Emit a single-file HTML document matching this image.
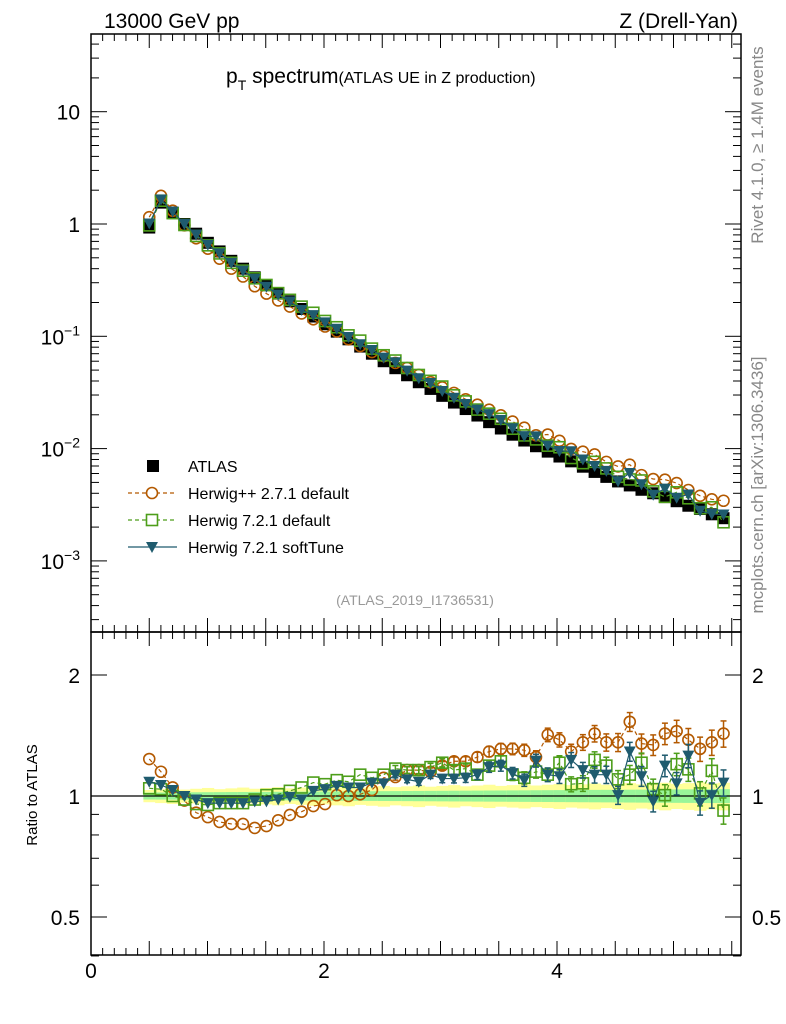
<!DOCTYPE html>
<html><head><meta charset="utf-8"><style>
body{margin:0;background:#fff;}
svg{display:block;font-family:"Liberation Sans",sans-serif;}
</style></head><body>
<svg id="c" width="786" height="1024" viewBox="0 0 786 1024">
<text x="104" y="28" font-size="21">13000 GeV pp</text>
<text x="738" y="28" font-size="21" text-anchor="end">Z (Drell-Yan)</text>
<text x="226" y="83" font-size="21">p<tspan font-size="14" dy="7">T</tspan><tspan dy="-7"> spectrum</tspan><tspan font-size="16">(ATLAS UE in Z production)</tspan></text>
<text transform="translate(763,145) rotate(-90)" font-size="17" fill="#888" text-anchor="middle">Rivet 4.1.0, ≥ 1.4M events</text>
<text transform="translate(763,485) rotate(-90)" font-size="17" fill="#888" text-anchor="middle">mcplots.cern.ch [arXiv:1306.3436]</text>
<text x="415" y="605" font-size="14" fill="#999" text-anchor="middle">(ATLAS_2019_I1736531)</text>
<text transform="translate(37,795) rotate(-90)" font-size="15" text-anchor="middle">Ratio to ATLAS</text>
<g id="g"></g>
</svg>
<script>
const atlasVals=[0.93,1.55,1.25,1.0,0.82,0.68,0.57,0.47,0.40,0.335,0.285,0.24,0.205,0.175,0.15,0.128,0.11,0.094,0.081,0.07,0.06,0.052,0.045,0.039,0.034,0.0295,0.0257,0.0225,0.0197,0.0172,0.0151,0.0133,0.0118,0.0105,0.0094,0.0085,0.0077,0.0069,0.0062,0.0056,0.0051,0.0047,0.0043,0.0040,0.0037,0.0034,0.0031,0.0029,0.0026,0.0024];
const ratioHpp=[1.236,1.149,1.05,0.974,0.909,0.886,0.862,0.852,0.852,0.833,0.842,0.87,0.897,0.914,0.944,0.955,1.005,1.0,1.01,1.035,1.11,1.115,1.16,1.16,1.149,1.19,1.22,1.22,1.25,1.29,1.31,1.31,1.30,1.25,1.42,1.38,1.29,1.36,1.43,1.36,1.36,1.53,1.35,1.34,1.43,1.45,1.38,1.31,1.36,1.43];
const ratioH721=[1.045,1.04,1.0,0.98,0.955,0.95,0.96,0.96,0.96,0.98,1.005,1.01,1.03,1.05,1.08,1.07,1.095,1.085,1.13,1.11,1.13,1.17,1.16,1.16,1.18,1.21,1.16,1.17,1.13,1.19,1.22,1.13,1.11,1.15,1.13,1.21,1.07,1.075,1.23,1.19,1.10,1.13,1.21,1.04,1.005,1.20,1.165,1.015,1.155,0.92];
const ratioSoft=[1.085,1.065,1.035,1.0,0.98,0.96,0.96,0.96,0.96,0.97,0.97,0.98,0.995,0.98,1.03,1.04,1.06,1.05,1.05,1.08,1.075,1.13,1.10,1.085,1.13,1.105,1.105,1.11,1.13,1.18,1.19,1.14,1.095,1.225,1.13,1.12,1.23,1.16,1.13,1.13,1.005,1.29,1.12,0.97,1.19,1.075,1.26,0.963,1.005,1.08];
const xTicks=[0,2,4];
const ratioTicks=[0.5,1,2];
const mainTicks=[1,0,-1,-2,-3];
const n=atlasVals.length;
const xVals=atlasVals.map((v,i)=>0.5+i*0.1006);
const X0=91,X1=741,Y0=34,Y1=632,R1=955;
const xs=v=>X0+v*116.5;
const ym=v=>224-112.3*Math.log10(v);
const yr=v=>796-121*Math.log2(v);
const g=document.getElementById('g');
const NS='http://www.w3.org/2000/svg';
function el(t,a,p){const e=document.createElementNS(NS,t);for(const k in a)e.setAttribute(k,a[k]);(p||g).appendChild(e);return e;}
const bw=0.1006/2;
const grp=el('g',{});


for(let i=0;i<n;i++){const f=i/(n-1);const y1=0.035+0.04*f+(i%3)*0.004,g1=0.02+0.02*f;
 el('rect',{x:xs(xVals[i]-bw),width:116.5*0.1006+0.5,y:yr(1+y1),height:yr(1-y1)-yr(1+y1),fill:'#ffff99'},grp);
 el('rect',{x:xs(xVals[i]-bw),width:116.5*0.1006+0.5,y:yr(1+g1),height:yr(1-g1)-yr(1+g1),fill:'#99f599'},grp);}
el('line',{x1:X0,x2:X1,y1:796,y2:796,stroke:'#000','stroke-width':1.3});
el('rect',{x:X0,y:Y0,width:X1-X0,height:Y1-Y0,fill:'none',stroke:'#000','stroke-width':1.5});
el('rect',{x:X0,y:Y1,width:X1-X0,height:R1-Y1,fill:'none',stroke:'#000','stroke-width':1.5});
for(let k=0;k<=5.5;k+=0.1){const x=xs(k);const maj=Math.abs(k*2-Math.round(k*2))<1e-6;const L=maj?14:7;
 for(const [a,b] of [[Y0,1],[Y1,-1],[Y1,1],[R1,-1]]) el('line',{x1:x,x2:x,y1:a,y2:a+b*L,stroke:'#000'});}
xTicks.forEach(v=>{const t=el('text',{x:xs(v),y:978,'font-size':21,'text-anchor':'middle'});t.textContent=v;
 
 });
for(let d=-4;d<=1;d++)for(let m=1;m<=9;m++){const v=m*Math.pow(10,d);const y=ym(v);if(y<Y0||y>Y1)continue;const L=m==1?16:8;
 el('line',{x1:X0,x2:X0+L,y1:y,y2:y,stroke:'#000'});el('line',{x1:X1,x2:X1-L,y1:y,y2:y,stroke:'#000'});}
mainTicks.forEach(d=>{const t=el('text',{x:80,y:ym(Math.pow(10,d))+8,'font-size':21,'text-anchor':'end'});
 if(d===1)t.textContent='10';else if(d===0)t.textContent='1';else{t.textContent='10';const s=el('tspan',{dy:-9,'font-size':14},t);s.textContent='−'+(-d);}
 
 });
[0.4,0.5,0.6,0.7,0.8,0.9,1,2].forEach(v=>{const y=yr(v);const L=(v==0.5||v==1||v==2)?16:8;
 el('line',{x1:X0,x2:X0+L,y1:y,y2:y,stroke:'#000'});el('line',{x1:X1,x2:X1-L,y1:y,y2:y,stroke:'#000'});});
ratioTicks.forEach(v=>{for(const [x,a] of [[80,'end'],[752,'start']]){const t=el('text',{x:x,y:yr(v)+8,'font-size':21,'text-anchor':a});t.textContent=v;
 
 }});
const series=[
 {name:'herwigpp',r:ratioHpp,c:'#b35900',dash:'4,3',m:'circle'},
 {name:'herwig721',r:ratioH721,c:'#4d9e1a',dash:'4,3',m:'square'},
 {name:'softtune',r:ratioSoft,c:'#1f5b6e',dash:'',m:'tri'}];
function marker(m,x,y,c,p){
 if(m=='circle')return el('circle',{cx:x,cy:y,r:5.5,fill:'none',stroke:c,'stroke-width':1.6},p);
 if(m=='square')return el('rect',{x:x-5.5,y:y-5.5,width:11,height:11,fill:'none',stroke:c,'stroke-width':1.6},p);
 if(m=='tri')return el('path',{d:`M${x-6},${y-5}L${x+6},${y-5}L${x},${y+6}Z`,fill:c},p);
 return el('rect',{x:x-6,y:y-6,width:12,height:12,fill:'#000'},p);}
const dg=el('g',{});


atlasVals.forEach((v,i)=>marker('sq',xs(xVals[i]),ym(v),'#000',dg));
series.forEach(s=>{
 const mg=el('g',{});
 
 
 const rg=el('g',{});
 
 
 const pm=s.r.map((r,i)=>xs(xVals[i])+','+ym(atlasVals[i]*r)).join(' ');
 const pr=s.r.map((r,i)=>xs(xVals[i])+','+yr(r)).join(' ');
 el('polyline',{points:pm,fill:'none',stroke:s.c,'stroke-width':1.2,'stroke-dasharray':s.dash},mg);
 el('polyline',{points:pr,fill:'none',stroke:s.c,'stroke-width':1.2,'stroke-dasharray':s.dash},rg);
 s.r.forEach((r,i)=>{const x=xs(xVals[i]);const e=0.005+0.07*Math.pow(i/(n-1),2);
  if(i>20){el('line',{x1:x,x2:x,y1:yr(r*(1+e)),y2:yr(r*(1-e)),stroke:s.c,'stroke-width':1.5},rg);
   el('line',{x1:x-3,x2:x+3,y1:yr(r*(1+e)),y2:yr(r*(1+e)),stroke:s.c,'stroke-width':1.5},rg);
   el('line',{x1:x-3,x2:x+3,y1:yr(r*(1-e)),y2:yr(r*(1-e)),stroke:s.c,'stroke-width':1.5},rg);}
  marker(s.m,x,ym(atlasVals[i]*r),s.c,mg);marker(s.m,x,yr(r),s.c,rg);});
});
const lg=el('g',{});


const leg=[['ATLAS','sq','#000',''],['Herwig++ 2.7.1 default','circle','#b35900','4,3'],['Herwig 7.2.1 default','square','#4d9e1a','4,3'],['Herwig 7.2.1 softTune','tri','#1f5b6e','']];
leg.forEach((l,k)=>{const y=466+k*27;
 const eg=el('g',{},lg);
 
 
 if(k>0)el('line',{x1:128,x2:177,y1:y,y2:y,stroke:l[2],'stroke-width':1.2,'stroke-dasharray':l[3]},eg);
 if(k==0)el('rect',{x:147,y:y-6,width:12,height:12,fill:'#000'},eg);else{const m=marker(l[1],152,y,l[2],eg);if(l[1]!='tri')m.setAttribute('fill','#fff');}
 const t=el('text',{x:188,y:y+6,'font-size':16},eg);t.textContent=l[0];});
</script>
</body></html>
